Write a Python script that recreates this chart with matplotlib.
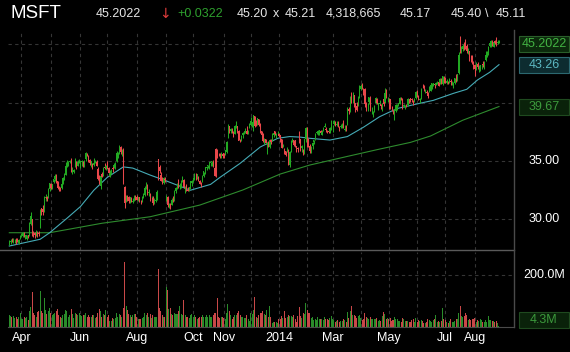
import numpy as np
import pandas as pd
import matplotlib
matplotlib.use("Agg")
import matplotlib.pyplot as plt
from matplotlib import transforms
from matplotlib.lines import Line2D
from matplotlib.patches import Rectangle

plt.rcParams['font.family'] = ['Liberation Sans', 'DejaVu Sans']

# ---------------- data ----------------
holidays = ['2013-03-29', '2013-05-27', '2013-07-04', '2013-09-02', '2013-11-28',
            '2013-12-25', '2014-01-01', '2014-01-20', '2014-02-17', '2014-04-18',
            '2014-05-26', '2014-07-04']
start_date, end_date = '2013-03-18', '2014-08-27'

opens = [
    # Mar 2013
    28.00, 28.10, 28.30, 28.10, 28.20, 28.30, 28.20, 28.00, 28.30,
    # Apr 2013
    28.60, 28.60, 28.80, 28.60, 28.30, 28.70, 28.60, 29.60, 30.00, 28.90, 28.80, 28.70, 28.90, 28.80, 29.40, 31.00, 30.90, 30.70, 31.80, 31.90, 31.80, 32.60,
    # May 2013
    33.00, 32.70, 33.20, 33.50, 33.80, 33.30, 32.70, 32.70, 32.70, 33.00, 33.50, 33.80, 34.70, 34.80, 34.90, 35.00, 34.00, 34.10, 34.50, 34.90, 34.60, 34.80,
    # Jun 2013
    34.90, 34.90, 34.90, 34.80, 35.20, 35.60, 35.10, 35.10, 34.90, 34.60, 34.70, 34.90, 34.90, 34.30, 33.60, 32.90, 33.90, 33.80, 34.50, 34.40,
    # Jul 2013
    34.70, 34.40, 33.70, 34.10, 34.40, 34.50, 34.60, 35.00, 35.60, 35.70, 36.20, 35.70, 35.80, 32.80, 31.70, 32.00, 31.90, 31.60, 31.80, 31.50, 31.80, 31.90,
    # Aug 2013
    31.90, 31.60, 31.90, 31.60, 31.50, 31.90, 32.10, 32.70, 32.90, 32.30, 32.20, 31.80, 31.80, 31.40, 31.60, 31.80, 35.20, 34.50, 33.80, 33.40, 33.10, 33.50,
    # Sep 2013
    31.80, 31.90, 31.20, 31.30, 31.20, 31.90, 31.60, 32.40, 32.80, 33.40, 32.90, 32.90, 33.40, 33.40, 32.60, 32.90, 32.50, 32.60, 32.70, 33.10,
    # Oct 2013
    33.30, 33.50, 33.90, 33.70, 33.60, 33.30, 33.10, 33.30, 33.70, 33.90, 34.40, 34.60, 34.60, 34.80, 34.90, 35.00, 34.40, 36.00, 35.90, 35.60, 35.60, 35.50, 35.60,
    # Nov 2013
    35.70, 35.60, 35.80, 37.20, 38.00, 37.60, 37.70, 37.40, 37.30, 37.90, 38.00, 37.60, 36.80, 36.90, 37.20, 37.30, 37.60, 37.60, 37.40, 37.80,
    # Dec 2013
    38.10, 38.10, 38.20, 38.90, 38.40, 38.60, 38.60, 38.10, 37.60, 37.40, 36.70, 36.90, 36.50, 36.60, 36.20, 36.80, 36.70, 37.20, 37.60, 37.20, 37.40,
    # Jan 2014
    37.35, 37.20, 36.85, 36.30, 36.00, 35.90, 35.90, 35.99, 34.70, 35.90, 36.70, 36.80, 36.80, 36.30, 36.10, 37.45, 36.90, 36.10, 35.90, 35.80, 36.90,
    # Feb 2014
    37.70, 36.90, 36.30, 35.80, 36.30, 36.60, 36.90, 37.40, 37.30, 37.40, 37.60, 37.20, 37.60, 37.90, 37.70, 37.60, 37.60, 37.50, 37.90,
    # Mar 2014
    37.90, 38.20, 38.30, 38.10, 38.30, 37.90, 37.90, 37.80, 38.40, 37.70, 37.90, 38.20, 39.50, 39.30, 40.70, 40.30, 40.70, 40.00, 39.70, 39.80, 40.40,
    # Apr 2014
    41.20, 41.40, 41.20, 41.20, 39.90, 39.80, 40.10, 40.40, 39.20, 39.10, 39.30, 40.00, 40.30, 39.80, 39.90, 39.90, 39.70, 40.30, 40.10, 41.10, 40.40,
    # May 2014
    40.20, 40.30, 39.50, 39.30, 39.20, 39.30, 39.50, 39.70, 39.90, 40.30, 40.30, 39.70, 39.60, 39.70, 39.80, 40.30, 40.40, 40.30, 40.10, 40.30, 40.40,
    # Jun 2014
    40.90, 40.60, 40.20, 40.50, 41.50, 41.40, 41.00, 40.90, 40.80, 41.10, 41.00, 41.30, 41.60, 41.60, 41.50, 41.70, 41.80, 41.70, 41.90, 41.60, 42.20,
    # Jul 2014
    41.90, 41.70, 41.90, 41.80, 41.90, 41.60, 41.40, 41.70, 42.20, 42.30, 42.51, 45.45, 44.65, 44.60, 45.00, 45.40, 44.90, 44.30, 44.40, 43.90, 44.00, 43.40,
    # Aug 2014
    43.20, 42.96, 43.30, 42.70, 42.80, 43.20, 43.30, 43.00, 43.70, 44.00, 44.60, 44.90, 44.97, 45.30, 44.80, 45.30, 45.40, 45.10, 45.17,
]
highs = [
    28.20, 28.30, 28.40, 28.40, 28.30, 28.40, 28.40, 28.30, 28.70,
    28.80, 28.90, 28.90, 28.70, 28.70, 28.70, 29.80, 30.60, 30.00, 29.00, 28.90, 29.10, 29.00, 29.00, 30.90, 31.00, 31.20, 32.00, 32.20, 32.00, 32.70, 33.10,
    33.10, 33.00, 33.50, 33.90, 33.90, 33.30, 32.90, 32.80, 33.10, 33.60, 34.00, 34.90, 35.10, 35.00, 35.10, 35.30, 34.50, 34.30, 35.30, 35.00, 35.10, 35.20,
    35.00, 35.10, 35.00, 35.10, 35.80, 35.70, 35.50, 35.20, 35.00, 34.80, 35.30, 35.10, 35.10, 34.50, 33.80, 33.80, 34.10, 34.50, 34.80, 34.70,
    35.00, 34.50, 34.20, 34.30, 34.60, 34.80, 34.90, 35.90, 35.80, 36.40, 36.30, 36.00, 36.10, 32.90, 32.10, 32.10, 32.00, 31.90, 31.90, 31.80, 32.10, 32.10,
    32.10, 31.90, 31.90, 31.70, 32.00, 32.30, 32.90, 33.20, 33.00, 32.60, 32.30, 32.00, 32.00, 31.80, 32.00, 32.50, 35.20, 34.70, 34.10, 33.60, 33.60, 33.60,
    32.10, 32.00, 31.40, 31.40, 31.80, 32.00, 32.50, 32.80, 33.10, 33.50, 33.10, 33.40, 33.70, 33.50, 32.90, 33.00, 32.80, 32.80, 33.30, 33.40,
    33.60, 34.00, 34.00, 33.90, 33.70, 33.40, 33.20, 33.80, 34.10, 34.50, 34.60, 34.70, 34.90, 34.90, 35.00, 35.10, 34.50, 36.10, 36.00, 35.70, 35.70, 35.80, 35.70,
    35.70, 35.90, 36.70, 38.20, 38.00, 37.80, 37.80, 37.60, 38.10, 38.40, 38.00, 37.70, 36.90, 37.20, 37.50, 37.60, 37.80, 38.00, 37.70, 38.30,
    38.80, 38.30, 38.98, 38.90, 38.50, 38.70, 38.60, 38.30, 37.60, 37.40, 37.00, 36.90, 36.60, 36.70, 36.90, 36.90, 37.40, 37.50, 37.60, 37.40, 37.60,
    37.40, 37.20, 36.90, 36.50, 36.10, 35.90, 36.20, 36.00, 35.90, 36.80, 37.00, 36.80, 36.80, 36.30, 36.20, 37.55, 36.90, 36.40, 36.00, 36.90, 37.90,
    37.90, 37.00, 36.50, 36.30, 36.60, 36.80, 37.40, 37.60, 37.70, 37.60, 37.70, 37.70, 37.90, 38.30, 37.90, 37.70, 37.70, 37.90, 38.50,
    38.10, 38.50, 38.40, 38.40, 38.40, 38.00, 38.20, 38.30, 38.50, 38.10, 38.10, 39.60, 39.60, 40.60, 40.90, 40.90, 40.70, 40.00, 40.10, 40.60, 41.50,
    41.60, 41.70, 41.30, 41.30, 40.10, 40.00, 40.50, 40.60, 39.60, 39.30, 39.80, 40.50, 40.40, 39.90, 40.20, 39.90, 39.97, 40.70, 41.30, 41.20, 40.50,
    40.40, 40.30, 39.70, 39.40, 39.50, 39.90, 39.90, 40.00, 40.50, 40.50, 40.40, 39.90, 39.80, 39.90, 40.40, 40.30, 40.40, 40.40, 40.20, 40.40, 41.00,
    41.10, 40.70, 40.40, 41.30, 41.60, 41.50, 41.20, 41.10, 40.90, 41.40, 41.60, 41.70, 41.70, 41.70, 41.80, 41.90, 41.90, 42.10, 42.10, 42.30, 42.30,
    42.20, 42.00, 41.90, 42.10, 42.00, 41.90, 41.80, 42.10, 42.50, 42.50, 44.31, 45.71, 44.84, 45.00, 45.20, 45.50, 45.00, 44.70, 44.40, 44.10, 44.10, 43.60,
    43.30, 43.47, 43.50, 43.20, 43.20, 43.30, 43.60, 43.60, 44.40, 44.40, 44.90, 45.10, 45.34, 45.40, 45.30, 45.40, 45.60, 45.40, 45.40,
]
lows = [
    27.80, 27.90, 28.10, 28.00, 28.00, 27.90, 28.10, 27.90, 28.30,
    28.50, 28.50, 28.50, 28.30, 28.20, 28.40, 28.60, 29.50, 28.60, 28.50, 28.40, 28.60, 28.50, 28.60, 29.30, 30.40, 30.40, 30.60, 31.60, 31.60, 31.80, 32.40,
    32.60, 32.60, 33.10, 33.30, 33.10, 32.60, 32.40, 32.40, 32.60, 33.00, 33.40, 33.80, 34.50, 34.60, 34.80, 34.10, 33.90, 34.00, 34.50, 34.30, 34.60, 34.80,
    34.40, 34.60, 34.50, 34.50, 35.00, 35.40, 34.90, 34.70, 34.50, 34.30, 34.60, 34.80, 34.60, 33.40, 33.00, 32.60, 33.60, 33.70, 34.30, 34.20,
    34.40, 33.70, 33.60, 33.90, 34.10, 34.40, 34.30, 34.90, 35.30, 35.60, 35.60, 35.40, 33.00, 31.00, 31.50, 31.60, 31.40, 31.40, 31.50, 31.40, 31.60, 31.70,
    31.70, 31.60, 31.50, 31.30, 31.50, 31.80, 32.00, 32.60, 32.10, 32.00, 31.60, 31.60, 31.20, 31.30, 31.50, 31.70, 33.40, 34.00, 33.30, 33.00, 33.00, 33.20,
    31.60, 31.10, 31.00, 30.90, 31.20, 31.50, 31.60, 32.30, 32.60, 32.70, 32.60, 32.70, 33.20, 32.70, 32.30, 32.40, 32.40, 32.40, 32.60, 32.90,
    33.20, 33.40, 33.40, 33.50, 33.30, 33.00, 32.80, 33.20, 33.60, 33.90, 34.20, 34.40, 34.30, 34.60, 34.60, 34.50, 33.70, 33.60, 35.30, 35.40, 35.30, 35.30, 35.30,
    35.30, 35.50, 35.70, 37.00, 37.40, 37.40, 37.40, 37.10, 37.30, 37.80, 37.40, 36.80, 36.60, 36.70, 37.00, 37.30, 37.40, 37.30, 37.30, 37.80,
    38.00, 37.90, 37.60, 37.90, 38.00, 38.10, 38.00, 37.40, 37.00, 36.60, 36.50, 36.50, 35.60, 36.20, 36.10, 36.50, 36.70, 37.10, 37.20, 37.00, 37.30,
    37.10, 36.60, 36.10, 36.20, 35.60, 35.40, 35.75, 34.63, 34.50, 35.80, 36.60, 36.30, 36.20, 35.80, 35.80, 36.53, 35.90, 35.80, 35.50, 35.60, 36.60,
    36.20, 36.20, 35.70, 35.70, 36.00, 36.50, 36.80, 37.30, 37.20, 37.20, 37.30, 37.20, 37.60, 37.90, 37.50, 37.40, 37.40, 37.40, 37.70,
    37.50, 38.10, 38.00, 38.00, 37.90, 37.60, 37.80, 37.80, 37.80, 37.60, 37.60, 38.10, 39.00, 39.20, 40.00, 40.00, 39.60, 39.20, 39.30, 39.70, 40.40,
    41.10, 41.20, 40.70, 39.60, 39.30, 39.30, 39.90, 39.30, 39.00, 38.80, 39.20, 39.90, 39.90, 39.40, 39.80, 39.50, 39.30, 39.70, 40.00, 40.40, 40.10,
    39.50, 39.50, 39.30, 39.00, 38.50, 39.20, 39.40, 39.70, 39.90, 40.20, 39.50, 39.60, 39.50, 39.60, 39.70, 40.00, 40.10, 40.10, 39.80, 40.10, 40.30,
    40.50, 40.20, 40.00, 40.30, 41.30, 41.00, 40.80, 40.70, 40.40, 40.90, 41.00, 41.20, 41.40, 41.30, 41.50, 41.60, 41.40, 41.60, 41.60, 41.50, 41.70,
    41.70, 41.60, 41.60, 41.70, 41.50, 41.50, 41.30, 41.60, 41.80, 41.90, 42.48, 44.25, 44.25, 44.40, 44.50, 44.60, 44.30, 44.20, 43.60, 43.50, 43.30, 42.90,
    42.30, 42.80, 42.90, 42.60, 42.70, 42.90, 43.10, 42.90, 43.60, 43.90, 44.10, 44.80, 44.80, 44.90, 44.80, 45.00, 44.90, 45.00, 45.11,
]
closes = [
    28.10, 28.18, 28.20, 28.16, 28.25, 28.16, 28.16, 28.27, 28.61,
    28.61, 28.80, 28.56, 28.60, 28.70, 28.59, 29.61, 30.28, 28.94, 28.79, 28.69, 28.97, 28.83, 28.79, 30.83, 30.83, 30.60, 31.76, 31.94, 31.79, 32.61, 33.10,
    32.72, 33.00, 33.49, 33.75, 33.31, 32.69, 32.66, 32.69, 33.03, 33.53, 33.85, 34.61, 34.87, 34.90, 35.00, 34.18, 34.16, 34.27, 35.02, 34.61, 34.93, 34.90,
    35.00, 34.99, 34.78, 34.96, 35.67, 35.47, 35.00, 34.84, 34.98, 34.40, 34.87, 34.94, 34.60, 33.49, 33.27, 33.72, 33.67, 34.35, 34.42, 34.54,
    34.36, 33.94, 34.01, 34.21, 34.33, 34.70, 34.71, 35.69, 35.67, 36.17, 35.74, 35.74, 33.10, 31.40, 32.01, 31.82, 31.62, 31.96, 31.62, 31.54, 32.03, 31.84,
    31.67, 31.89, 31.70, 31.58, 31.74, 32.06, 32.70, 32.87, 32.23, 32.35, 31.79, 31.80, 31.39, 31.62, 31.61, 32.39, 34.75, 34.15, 33.26, 33.02, 33.55, 33.40,
    31.88, 31.20, 31.24, 31.15, 31.66, 31.66, 32.39, 32.72, 33.03, 32.80, 32.93, 33.32, 33.64, 32.79, 32.74, 32.45, 32.47, 32.77, 33.27, 33.28,
    33.58, 33.92, 33.86, 33.88, 33.30, 33.01, 33.07, 33.76, 34.13, 34.45, 34.49, 34.64, 34.92, 34.96, 34.99, 34.58, 33.76, 33.72, 35.73, 35.57, 35.52, 35.54, 35.41,
    35.53, 35.94, 36.64, 38.18, 37.50, 37.78, 37.59, 37.36, 38.02, 38.31, 37.57, 36.74, 36.74, 37.08, 37.40, 37.57, 37.64, 37.35, 37.60, 38.13,
    38.45, 38.31, 38.94, 38.00, 38.36, 38.71, 38.11, 37.61, 37.22, 36.69, 36.89, 36.52, 36.58, 36.25, 36.80, 36.62, 37.08, 37.44, 37.29, 37.29, 37.41,
    37.16, 36.91, 36.13, 36.41, 35.76, 35.53, 36.04, 34.98, 35.78, 36.76, 36.89, 36.38, 36.17, 35.93, 36.06, 36.81, 36.03, 36.27, 35.64, 36.86, 37.84,
    36.48, 36.35, 35.82, 36.18, 36.56, 36.80, 37.17, 37.47, 37.61, 37.62, 37.42, 37.51, 37.75, 37.98, 37.69, 37.54, 37.47, 37.86, 38.31,
    37.92, 38.41, 38.11, 38.15, 37.90, 37.82, 38.02, 38.27, 37.89, 37.70, 37.70, 39.55, 39.27, 40.33, 40.16, 40.34, 39.85, 39.75, 39.36, 40.30, 40.99,
    41.42, 41.35, 41.01, 39.87, 39.80, 39.82, 40.47, 39.36, 39.21, 39.18, 39.75, 40.40, 40.01, 39.94, 39.99, 39.69, 39.86, 39.91, 40.87, 40.51, 40.40,
    40.00, 39.69, 39.43, 39.06, 39.43, 39.80, 39.54, 39.97, 40.42, 40.24, 39.60, 39.83, 39.75, 39.68, 40.35, 40.10, 40.12, 40.19, 40.01, 40.34, 40.94,
    40.79, 40.29, 40.32, 41.21, 41.48, 41.27, 41.11, 40.86, 40.58, 41.23, 41.50, 41.68, 41.65, 41.51, 41.68, 41.75, 41.44, 42.03, 41.72, 42.25, 41.70,
    41.87, 41.90, 41.80, 41.99, 41.78, 41.67, 41.69, 42.09, 42.14, 42.45, 44.08, 44.53, 44.69, 44.84, 44.83, 44.87, 44.40, 44.50, 43.97, 43.89, 43.58, 43.16,
    42.86, 43.37, 43.08, 42.74, 43.23, 43.20, 43.20, 43.52, 44.08, 44.27, 44.79, 45.11, 45.33, 44.95, 45.22, 45.15, 45.01, 45.17, 45.2022,
]
volumes_m = [
    45, 42, 38, 41, 33, 38, 31, 37, 55,
    30, 32, 39, 36, 40, 26, 60, 77, 135, 55, 45, 40, 58, 60, 139, 60, 55, 112, 65, 50, 60, 75,
    55, 45, 50, 55, 60, 70, 45, 38, 36, 45, 50, 65, 60, 40, 45, 70, 50, 35, 55, 50, 45, 55,
    45, 42, 45, 48, 55, 40, 45, 40, 38, 45, 48, 36, 40, 55, 70, 60, 40, 50, 45, 65,
    40, 45, 22, 25, 33, 30, 34, 55, 40, 50, 45, 38, 73, 250, 80, 65, 50, 45, 40, 45, 50, 50,
    40, 30, 30, 32, 35, 38, 55, 45, 55, 40, 50, 35, 45, 40, 40, 40, 223, 75, 60, 45, 40, 40,
    153, 142, 70, 75, 50, 45, 55, 50, 50, 60, 80, 50, 45, 104, 45, 40, 40, 35, 45, 50,
    40, 45, 40, 30, 35, 40, 40, 45, 40, 40, 45, 40, 45, 40, 40, 45, 55, 55, 113, 40, 35, 40, 40,
    35, 30, 55, 90, 60, 45, 30, 40, 45, 45, 55, 60, 45, 40, 40, 35, 35, 45, 30, 25,
    55, 50, 65, 115, 40, 35, 45, 55, 55, 60, 50, 45, 65, 40, 80, 40, 15, 18, 20, 20, 17,
    30, 31, 44, 35, 60, 36, 40, 45, 42, 44, 38, 47, 32, 21, 43, 76, 44, 36, 52, 49, 93,
    64, 54, 55, 35, 38, 26, 32, 27, 37, 31, 32, 30, 27, 38, 32, 30, 26, 33, 41,
    29, 26, 21, 23, 26, 20, 24, 24, 31, 27, 21, 57, 35, 60, 80, 46, 46, 41, 34, 44, 46,
    33, 28, 30, 52, 38, 35, 32, 40, 31, 30, 32, 30, 35, 22, 27, 25, 42, 56, 50, 30, 35,
    30, 35, 22, 28, 40, 32, 30, 23, 25, 18, 35, 30, 25, 22, 22, 20, 18, 27, 30, 20, 35,
    18, 26, 24, 28, 25, 16, 15, 18, 29, 26, 24, 21, 28, 30, 47, 20, 24, 20, 23, 74, 30,
    26, 20, 15, 22, 30, 19, 21, 25, 30, 30, 55, 82, 43, 37, 43, 52, 45, 26, 29, 27, 31, 31,
    33, 21, 27, 25, 30, 28, 20, 21, 26, 19, 41, 27, 28, 24, 22, 18, 22, 14, 4.318665,
]

ma50_dates = ['2013-03-18', '2013-04-19', '2013-04-30', '2013-05-17', '2013-06-03', '2013-06-17',
              '2013-07-01', '2013-07-18', '2013-07-29', '2013-08-15', '2013-09-03', '2013-09-27',
              '2013-10-18', '2013-10-29', '2013-11-19', '2013-12-11', '2013-12-31', '2014-01-14',
              '2014-01-27', '2014-02-05', '2014-02-27', '2014-03-18', '2014-04-03', '2014-04-22',
              '2014-05-09', '2014-06-04', '2014-06-18', '2014-07-10', '2014-07-24', '2014-08-05',
              '2014-08-18', '2014-08-27']
ma50_vals = [27.72, 28.30, 28.85, 30.10, 31.10, 32.50, 33.60, 34.50, 34.40, 33.80, 33.30, 32.50,
             33.00, 33.60, 34.80, 36.20, 36.95, 37.10, 37.05, 36.95, 36.80, 37.10, 37.90, 38.80,
             39.50, 39.95, 40.20, 40.80, 41.15, 41.95, 42.60, 43.26]

ma200_dates = ['2013-03-18', '2013-04-30', '2013-06-25', '2013-08-15', '2013-10-08', '2013-11-21',
               '2014-01-03', '2014-02-05', '2014-03-18', '2014-04-21', '2014-05-23', '2014-06-16',
               '2014-07-21', '2014-08-27']
ma200_vals = [28.86, 28.86, 29.67, 30.23, 31.23, 32.52, 33.89, 34.66, 35.40, 36.00, 36.60, 37.15,
              38.50, 39.67]

price_grid = [30, 35, 40, 45]
price_labels_shown = [30, 35]          # 40.00 / 45.00 are hidden behind the value boxes
volume_grid = [200e6]
tick_months = ['2013-04', '2013-06', '2013-08', '2013-10', '2013-11', '2014-01',
               '2014-03', '2014-05', '2014-07', '2014-08']
tick_labels = ['Apr', 'Jun', 'Aug', 'Oct', 'Nov', '2014', 'Mar', 'May', 'Jul', 'Aug']

symbol = 'MSFT'
last_price, change = '45.2022', '+0.0322'
bid, ask = '45.20', '45.21'
volume_txt, open_txt, high_txt, low_txt = '4,318,665', '45.17', '45.40', '45.11'
ma50_label, ma200_label = '43.26', '39.67'
last_volume_label = '4.3M'

# ---------------- prep ----------------
dates = pd.bdate_range(start_date, end_date)
dates = dates[~dates.isin(pd.to_datetime(holidays))]
n = len(dates)
for nm, arr in [('opens', opens), ('highs', highs), ('lows', lows), ('closes', closes), ('volumes', volumes_m)]:
    assert len(arr) == n, (nm, len(arr), n)

o = np.array(opens); h = np.array(highs); l = np.array(lows); c = np.array(closes)
v = np.array(volumes_m) * 1e6
x = np.arange(n)
up = c >= o

W, H = 570, 352
fig = plt.figure(figsize=(W / 100, H / 100), dpi=100, facecolor='black')

def fx(px): return px / W
def fy(py): return 1 - py / H

axp = fig.add_axes([fx(8), fy(250), (514 - 8) / W, 220 / H], facecolor='black')
axv = fig.add_axes([fx(8), fy(327), (514 - 8) / W, 75 / H], facecolor='black')

dx = 1.3416
xlo, xhi = (8 - 9.3) / dx, (514 - 9.3) / dx
for a in (axp, axv):
    a.set_xlim(xlo, xhi)
    for s in a.spines.values():
        s.set_visible(False)
    a.set_xticks([]); a.set_yticks([])
axp.set_ylim(27.38, 46.23)
axv.set_ylim(0, 288.5e6)

grid_kw = dict(color='#353535', lw=0.8, ls=(0, (3, 3)), zorder=0)
month_starts = [i for i in range(1, n) if dates[i].month != dates[i - 1].month]
for i in month_starts:
    axp.axvline(i, **grid_kw)
    axv.axvline(i, **grid_kw)
for g in price_grid:
    axp.axhline(g, **grid_kw)
for g in volume_grid:
    axv.axhline(g, **grid_kw)

GREEN, RED = '#22a822', '#e8474a'
cols = np.where(up, GREEN, RED)
axp.vlines(x, l, h, colors=cols, lw=0.75, zorder=3)
body_lo = np.minimum(o, c)
body_h = np.maximum(np.abs(c - o), 0.03)
axp.bar(x, body_h, bottom=body_lo, width=0.7, color=cols, lw=0, zorder=3)

# moving averages
ma50_x = [dates.get_loc(pd.Timestamp(d)) for d in ma50_dates]
ma200_x = [dates.get_loc(pd.Timestamp(d)) for d in ma200_dates]
axp.plot(ma200_x, ma200_vals, color='#2e8b2e', lw=0.8, zorder=2)
axp.plot(ma50_x, ma50_vals, color='#45aab5', lw=0.8, zorder=2)

# volume
vcols = np.where(up, '#2a8c2a', '#c94848')
axv.bar(x, v, width=0.75, color=vcols, lw=0, zorder=3)

# separators
fig.add_artist(Line2D([0, fx(514)], [fy(250), fy(250)], color='#5a5a5a', lw=1.0))
fig.add_artist(Line2D([fx(514), fx(514)], [fy(30), fy(327)], color='#4a4a4a', lw=1.0))
fig.add_artist(Line2D([fx(8), fx(514)], [fy(327), fy(327)], color='#4a4a4a', lw=0.8))

# right axis labels
bt_p = transforms.blended_transform_factory(fig.transFigure, axp.transData)
bt_v = transforms.blended_transform_factory(fig.transFigure, axv.transData)
for g in price_labels_shown:
    axp.text(fx(544), g, f'{g:.2f}', transform=bt_p, ha='center', va='center',
             color='white', fontsize=9, clip_on=False, zorder=5)
for g in volume_grid:
    axv.text(fx(544), g, f'{g / 1e6:.1f}M', transform=bt_v, ha='center', va='center',
             color='white', fontsize=9, clip_on=False, zorder=5)

def fig_y(ax, val):
    return fig.transFigure.inverted().transform(ax.transData.transform((0, val)))[1]

def box_label(yc, txt, fc, ec, tc):
    fig.add_artist(Rectangle((fx(518.5), yc - 8 / H), 50.5 / W, 16 / H, transform=fig.transFigure,
                             facecolor=fc, edgecolor=ec, lw=0.8, zorder=10))
    fig.text(fx(544), yc, txt, ha='center', va='center', color=tc, fontsize=9, zorder=11)

box_label(fig_y(axp, float(last_price)) - 2 / H, last_price, '#0c2a0c', '#2a5e2a', '#43b443')
box_label(fig_y(axp, float(ma50_label)), ma50_label, '#0d2c30', '#2c6870', '#5cb8c2')
box_label(fig_y(axp, float(ma200_label)), ma200_label, '#0a220a', '#1f4a1f', '#3c9a3c')
box_label(fy(320), last_volume_label, '#0a220a', '#1f4a1f', '#3c9a3c')

# x tick labels
bt_x = transforms.blended_transform_factory(axv.transData, fig.transFigure)
for m, lab in zip(tick_months, tick_labels):
    idx = int(np.argmax(dates.strftime('%Y-%m') == m))
    axv.text(idx, fy(338), lab, transform=bt_x, ha='center', va='center',
             color='white', fontsize=9, clip_on=False)

# header
hy = fy(14)
fig.text(fx(11), hy, symbol, color='white', fontsize=13.5, ha='left', va='center')
hdr = [(96, last_price, '#e6e6e6'), (177, change, '#2ea02e'),
       (237, bid, '#e6e6e6'), (273, 'x', '#e6e6e6'), (285, ask, '#e6e6e6'),
       (326, volume_txt, '#e6e6e6'), (400, open_txt, '#e6e6e6'), (451, high_txt, '#e6e6e6'),
       (485, '\\', '#e6e6e6'), (496, low_txt, '#e6e6e6')]
for px, t, col in hdr:
    fig.text(fx(px), hy, t, color=col, fontsize=9, ha='left', va='center')
fig.text(fx(164.5), hy, '↓', color='#e03c3c', fontsize=10, ha='center', va='center',
         family=['DejaVu Sans'])

fig.savefig('out.png', dpi=100, facecolor='black')
